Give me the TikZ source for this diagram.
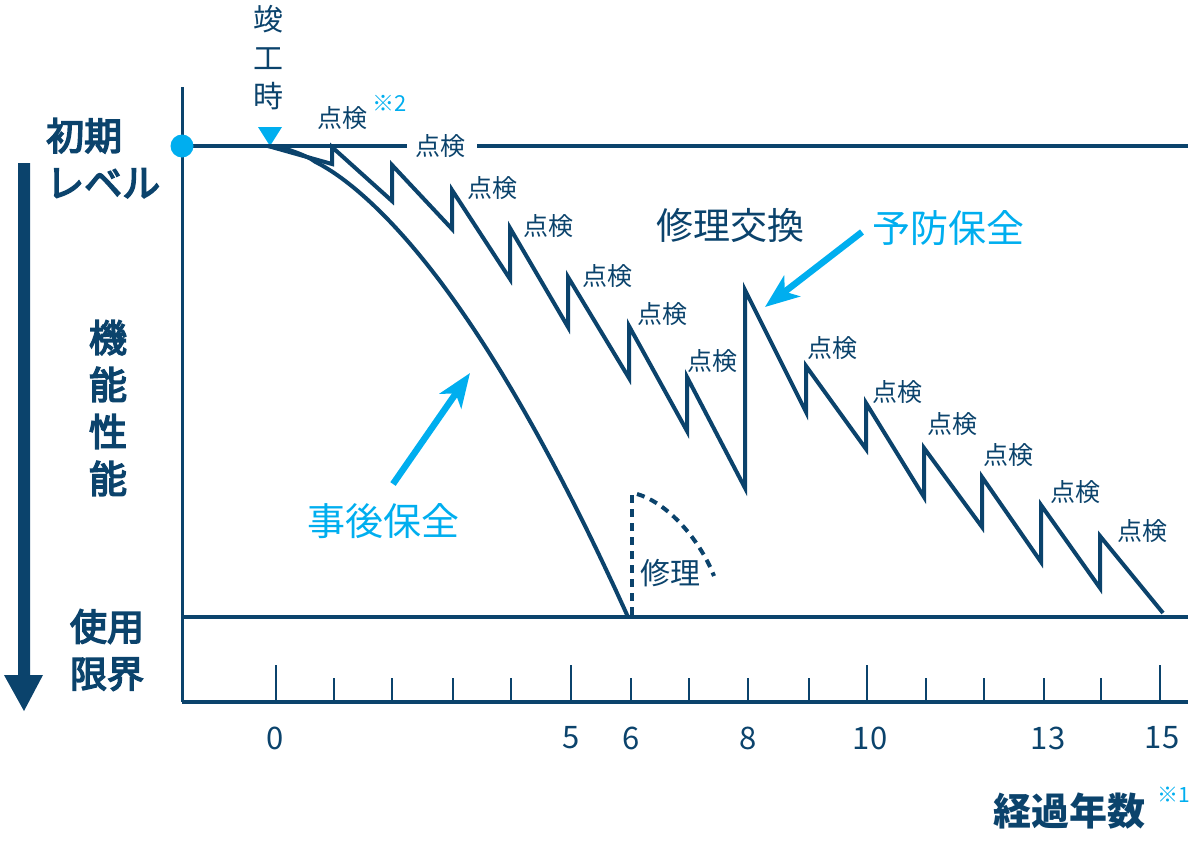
\documentclass[tikz,border=0pt]{standalone}
\usepackage{fontspec}
\setmainfont{Noto Sans CJK JP}
\newfontfamily\jpmed{Noto Sans CJK JP}[FakeBold=4]
\usetikzlibrary{arrows.meta}
\definecolor{navy}{HTML}{0B436C}
\definecolor{sky}{HTML}{00AEEF}
\begin{document}
\begin{tikzpicture}[x=1pt,y=-1pt,
  txt/.style={inner sep=0pt,text=navy},
  chk/.style={txt,font=\fontsize{25}{25}\selectfont},
  big/.style={txt,font=\jpmed\fontsize{38}{47}\selectfont,align=center},
  num/.style={txt,font=\fontsize{31}{31}\selectfont},
  axisline/.style={draw=navy,line width=4.5pt},
  graphline/.style={draw=navy,line width=4pt,miter limit=20},
  minortick/.style={draw=navy,line width=1.5pt},
  majortick/.style={draw=navy,line width=2pt},
  skyarrow/.style={draw=sky,line width=6.5pt,-{Stealth[length=34pt,width=26pt,inset=9pt]}},
  dashedline/.style={draw=navy,line width=4pt,dash pattern=on 8pt off 6pt}]
\useasboundingbox (0,0) rectangle (1202,841);
% axes
\draw[draw=navy,line width=3pt] (182,87) -- (182,702);
\draw[axisline] (182,702) -- (1188,702);
\draw[axisline] (182,146) -- (407,146);
\draw[axisline] (477,146) -- (1188,146);
\draw[axisline] (182,617) -- (1188,617);
% ticks
\foreach \xx in {334,392,453,511,631,689,748,809,926,984,1044,1101}
  \draw[minortick] (\xx,678) -- (\xx,702);
\foreach \xx in {276,571,867,1160}
  \draw[majortick] (\xx,665) -- (\xx,702);
% tick labels
\node[num] (n0) at (275,738) {0};
\node[num] (n5) at (571,738) {5};
\node[num] (n6) at (631,738) {6};
\node[num] (n8) at (748,738) {8};
\node[num] (n10) at (870,738) {10};
\node[num] (n13) at (1048,738) {13};
\node[num] (n15) at (1162,738) {15};
\node[txt,font=\fontsize{38}{38}\selectfont\bfseries] (yrs) at (1069,811) {経過年数};
\node[inner sep=0pt,text=sky,font=\fontsize{21}{21}\selectfont] (note1) at (1174,795) {※1};
% initial level marker
\fill[sky] (182,146) circle (11.5);
\fill[sky] (258,127) -- (282,127) -- (270,146) -- cycle;
% left labels
\node[big,align=left,anchor=west] (init) at (46,158) {初期\\レベル};
\node[big] (perf) at (108,408) {機\\能\\性\\能};
\node[big,font=\jpmed\fontsize{37}{47}\selectfont] (limit) at (107,650) {使用\\限界};
\fill[navy] (18,163) -- (30,163) -- (30,675) -- (43,675) -- (24,711) -- (4,675) -- (18,675) -- cycle;
\node[txt,font=\fontsize{30}{38.5}\selectfont,align=center] (done) at (268,58) {竣\\工\\時};
% corrective maintenance curve
\draw[graphline] (268,146) -- plot[domain=0.02:1,samples=80,smooth] ({268+360*\x},{146+471*(\x)^1.69});
% preventive maintenance zigzag
\draw[graphline,line join=miter] (268,146)
  -- (332,164) -- (332,147)
  -- (392,201) -- (392,165)
  -- (452,229) -- (452,190)
  -- (510,279) -- (510,228)
  -- (568,327) -- (568,277)
  -- (629,378) -- (629,326)
  -- (687,431) -- (687,377)
  -- (745,488) -- (745,290)
  -- (806,412) -- (806,366)
  -- (866,449) -- (866,403)
  -- (924,497) -- (924,448)
  -- (982,527) -- (982,477)
  -- (1041,562) -- (1041,505)
  -- (1100,588) -- (1100,536)
  -- (1163,613);
% inspection labels
\node[chk] (c1) at (342,118) {点検};
\node[inner sep=0pt,text=sky,font=\fontsize{22}{22}\selectfont] (note2) at (390,103) {※2};
\node[chk] (c2) at (440,146) {点検};
\node[chk] (c3) at (492,188) {点検};
\node[chk] (c4) at (548,226) {点検};
\node[chk] (c5) at (607,276) {点検};
\node[chk] (c6) at (662,314) {点検};
\node[chk] (c7) at (712,361) {点検};
\node[chk] (c8) at (832,348) {点検};
\node[chk] (c9) at (897,392) {点検};
\node[chk] (c10) at (952,424) {点検};
\node[chk] (c11) at (1008,455) {点検};
\node[chk] (c12) at (1075,492) {点検};
\node[chk] (c13) at (1142,531) {点検};
% titles
\node[txt,font=\fontsize{37}{37}\selectfont] (swap) at (730,225) {修理交換};
\node[inner sep=0pt,text=sky,font=\fontsize{38}{38}\selectfont] (prev) at (948,228) {予防保全};
\node[inner sep=0pt,text=sky,font=\fontsize{38}{38}\selectfont] (corr) at (383,521) {事後保全};
\coordinate (pa0) at (862,232);
\coordinate (pa1) at (765,307);
\coordinate (ca0) at (393,484);
\coordinate (ca1) at (470,373);
\draw[skyarrow] (pa0) -- (pa1);
\draw[skyarrow] (ca0) -- (ca1);
% repair
\draw[dashedline] (632,495) -- (632,617);
\draw[dashedline] (637,494) .. controls (668,503) and (700,540) .. (714,576);
\node[txt,font=\fontsize{30}{30}\selectfont] (rep) at (670,573) {修理};
\end{tikzpicture}
\end{document}
